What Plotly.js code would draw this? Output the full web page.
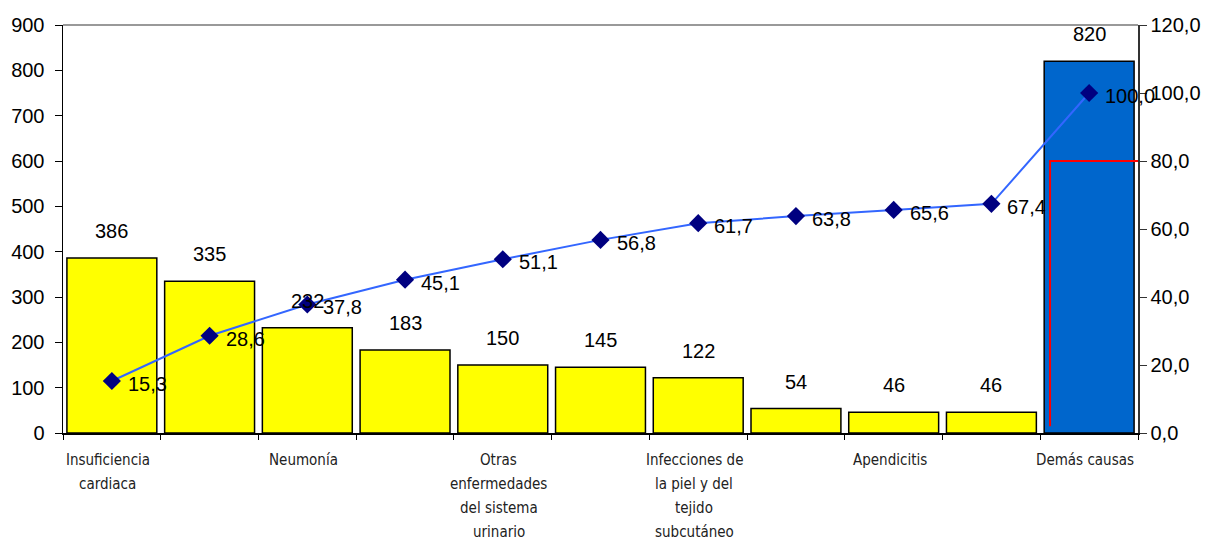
<!DOCTYPE html>
<html>
<head>
<meta charset="utf-8">
<script src="https://cdn.plot.ly/plotly-3.0.1.min.js"></script>
<style>
  html, body { margin: 0; padding: 0; background: #ffffff; }
  #chart { width: 1211px; height: 543px; }
</style>
</head>
<body>
<div id="chart"></div>
<script>
// Egresos por causa (frecuencia) y porcentaje acumulado — diagrama de Pareto
const tickLabels = [
  "Insuficiencia<br>cardiaca", "", "Neumonía", "",
  "Otras<br>enfermedades<br>del sistema<br>urinario", "",
  "Infecciones de<br>la piel y del<br>tejido<br>subcutáneo", "",
  "Apendicitis", "", "Demás causas"
];
const frecuencias = [386, 335, 232, 183, 150, 145, 122, 54, 46, 46, 820];
const acumulado = [15.3, 28.6, 37.8, 45.1, 51.1, 56.8, 61.7, 63.8, 65.6, 67.4, 100.0];
const umbral = 80;

const idx = frecuencias.map((_, i) => i);
const n = frecuencias.length;
const barColors = idx.map(i => i === n - 1 ? "#0066CC" : "#FFFF00");
const xRange = [-0.5, n - 0.5];

const valueFont = { family: "Liberation Sans, Arial, sans-serif", size: 20, color: "#000000" };
const catFont = { family: "DejaVu Sans Condensed, Liberation Sans Narrow, sans-serif", size: 15, color: "#222222" };

const barTrace = {
  type: "bar",
  x: idx,
  y: frecuencias,
  marker: { color: barColors, line: { color: "#000000", width: 1.5 } },
  width: 0.92,
  hoverinfo: "y",
  showlegend: false
};

const lineTrace = {
  type: "scatter",
  mode: "lines+markers",
  x: idx,
  y: acumulado,
  yaxis: "y2",
  line: { color: "#3366FF", width: 2 },
  marker: { symbol: "diamond", size: 14, color: "#000080" },
  cliponaxis: false,
  showlegend: false
};

// 80 % reference line (Pareto cut)
const cutX = n - 1 - 0.4;
const cutTrace = {
  type: "scatter",
  mode: "lines",
  x: [cutX, cutX, n - 0.5],
  y: [2, umbral, umbral],
  yaxis: "y2",
  line: { color: "#FF0000", width: 2 },
  hoverinfo: "skip",
  cliponaxis: false,
  showlegend: false
};

// Boundary tick marks between categories
const boundaryTrace = {
  type: "scatter", mode: "markers",
  x: [0], y: [0], xaxis: "x2",
  marker: { opacity: 0 }, hoverinfo: "skip", showlegend: false
};

// Frequency labels above the bars
const barAnnotations = frecuencias.map((v, i) => ({
  x: i, y: v, xref: "x", yref: "y",
  text: String(v),
  showarrow: false,
  yanchor: "bottom",
  yshift: 14,
  font: valueFont
}));

// Cumulative percentage labels to the right of each marker
const pctAnnotations = acumulado.map((v, i) => ({
  x: i, y: v, xref: "x", yref: "y2",
  text: v.toFixed(1).replace(".", ","),
  showarrow: false,
  xanchor: "left",
  yanchor: "middle",
  xshift: 14,
  yshift: -3,
  font: valueFont
}));

// Category labels, one annotation per line for wide line spacing
const catAnnotations = [];
tickLabels.forEach((lbl, i) => {
  if (!lbl) return;
  lbl.split("<br>").forEach((line, k) => {
    catAnnotations.push({
      x: i, y: 0, xref: "x", yref: "paper",
      text: line,
      showarrow: false,
      xanchor: "center",
      yanchor: "middle",
      xshift: -4,
      yshift: -27 - 24 * k,
      font: catFont
    });
  });
});

const axisFont = { family: "Liberation Sans, Arial, sans-serif", size: 20, color: "#000000" };

const layout = {
  width: 1211,
  height: 543,
  margin: { l: 63, r: 73, t: 25, b: 110 },
  paper_bgcolor: "#ffffff",
  plot_bgcolor: "#ffffff",
  separators: ",.",
  xaxis: {
    range: xRange,
    showticklabels: false,
    ticks: "",
    showgrid: false,
    zeroline: false,
    showline: true,
    linecolor: "#000000",
    linewidth: 1.5,
    fixedrange: true
  },
  xaxis2: {
    overlaying: "x",
    side: "bottom",
    range: xRange,
    tickmode: "array",
    tickvals: Array.from({ length: n + 1 }, (_, i) => i - 0.5),
    ticks: "outside",
    ticklen: 6,
    tickcolor: "#000000",
    showticklabels: false,
    showgrid: false,
    zeroline: false,
    showline: false
  },
  yaxis: {
    range: [0, 900],
    dtick: 100,
    ticks: "outside",
    ticklen: 7,
    tickcolor: "#000000",
    ticklabelstandoff: 6,
    showgrid: false,
    zeroline: false,
    showline: true,
    linecolor: "#000000",
    linewidth: 1.5,
    tickfont: axisFont,
    fixedrange: true
  },
  yaxis2: {
    overlaying: "y",
    side: "right",
    range: [0, 120],
    dtick: 20,
    tickformat: ".1f",
    ticks: "outside",
    ticklen: 7,
    tickcolor: "#333333",
    showgrid: false,
    zeroline: false,
    showline: true,
    linecolor: "#333333",
    linewidth: 1.5,
    tickfont: axisFont,
    fixedrange: true
  },
  shapes: [
    { type: "line", xref: "paper", yref: "paper", x0: 0, x1: 1, y0: 1, y1: 1,
      line: { color: "#999999", width: 2 } }
  ],
  annotations: barAnnotations.concat(pctAnnotations, catAnnotations),
  showlegend: false
};

Plotly.newPlot("chart", [barTrace, boundaryTrace, cutTrace, lineTrace], layout, { displayModeBar: false, staticPlot: true });
</script>
</body>
</html>
